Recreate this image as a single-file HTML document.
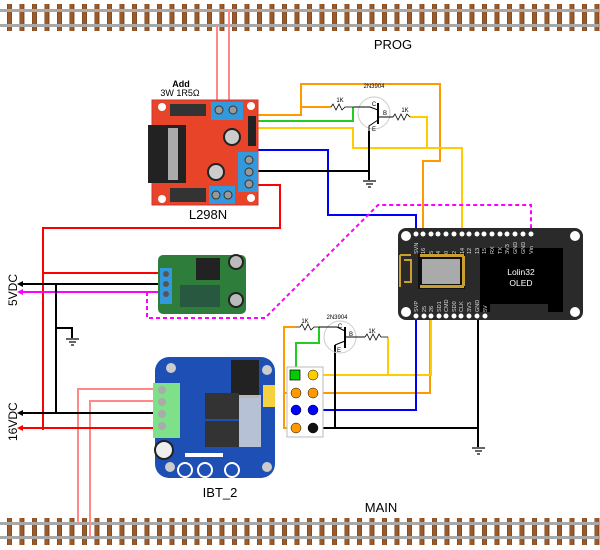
<!DOCTYPE html>
<html><head><meta charset="utf-8"><style>
html,body{margin:0;padding:0;background:#fff;}
svg{display:block;font-family:"Liberation Sans",sans-serif;}
</style></head><body>
<svg width="600" height="550" viewBox="0 0 600 550" xmlns="http://www.w3.org/2000/svg">
<defs>
<pattern id="ties" x="7" y="0" width="12.5" height="550" patternUnits="userSpaceOnUse">
<rect x="0" y="0" width="4.5" height="550" fill="#9a5a2a" stroke="#6b3510" stroke-width="0.8"/>
</pattern>
</defs>
<rect width="600" height="550" fill="#fff"/>
<!-- top track -->
<rect x="0" y="4" width="600" height="27" fill="url(#ties)"/>
<rect x="0" y="9" width="600" height="3" fill="#a8a8a8"/>
<rect x="0" y="24" width="600" height="3" fill="#a8a8a8"/>
<!-- bottom track -->
<rect x="0" y="518" width="600" height="27" fill="url(#ties)"/>
<rect x="0" y="522" width="600" height="3" fill="#a8a8a8"/>
<rect x="0" y="536" width="600" height="3" fill="#a8a8a8"/>

<text x="393" y="49" font-size="13" text-anchor="middle">PROG</text>
<text x="381" y="512" font-size="13" text-anchor="middle">MAIN</text>
<text x="181" y="87" font-size="9" text-anchor="middle" font-weight="bold">Add</text>
<text x="180" y="96" font-size="9" text-anchor="middle">3W 1R5Ω</text>
<text x="208" y="219" font-size="13" text-anchor="middle">L298N</text>
<text x="220" y="497" font-size="13" text-anchor="middle">IBT_2</text>
<text transform="translate(17,306) rotate(-90)" font-size="12">5VDC</text>
<text transform="translate(17,441) rotate(-90)" font-size="12">16VDC</text>

<g fill="none" stroke-width="2">
<!-- pink track wires -->
<polyline points="217,25 217,102" stroke="#f88"/>
<polyline points="229,9 229,102" stroke="#f88"/>
<polyline points="160,389 78,389 78,524" stroke="#f88"/>
<polyline points="160,401 90,401 90,537" stroke="#f88"/>
<!-- L298N outputs -->
<polyline points="254,115 301,115 301,84 440,84 440,161 423,161 423,234" stroke="#f90"/>
<polyline points="301,107 331,107" stroke="#f90"/>
<polyline points="254,121 353,121 353,107" stroke="#2c2"/>
<polyline points="254,128 353,128 353,148 462,148 462,234" stroke="#fc0"/>
<polyline points="410,117 427,117 427,148" stroke="#fc0"/>
<polyline points="200,133 220,133 220,150 328,150 328,215 416,215 416,234" stroke="#00f"/>
<polyline points="258,171 369,171" stroke="#000"/>
<polyline points="369,131 369,180" stroke="#000"/>
<polyline points="258,185 280,185 280,228 43,228 43,430" stroke="#f00"/>
<!-- power rails -->
<polyline points="43,273 160,273" stroke="#f00"/>
<polyline points="22,284 160,284" stroke="#000"/>
<polyline points="22,292 160,292" stroke="#f0f"/>
<polyline points="56,284 56,413" stroke="#000"/>
<polyline points="56,328 72,328 72,338" stroke="#000"/>
<polyline points="22,413 160,413" stroke="#000"/>
<polyline points="22,428 160,428" stroke="#f00"/>
<polyline points="147,292 147,318 265,318 378,205 531,205 531,234" stroke="#f0f" stroke-dasharray="4,3"/>
<!-- lower section -->
<polyline points="296,327 284,327 284,428 296,428" stroke="#f90"/>
<polyline points="284,393 430,393 430,318" stroke="#f90"/>
<polyline points="296,375 296,343 319,343 319,327" stroke="#2c2"/>
<polyline points="313,375 431,375 431,318" stroke="#fc0"/>
<polyline points="388,337 388,375" stroke="#fc0"/>
<polyline points="296,410 416,410 416,318" stroke="#00f"/>
<polyline points="313,428 478,428 478,318" stroke="#000"/>
<polyline points="478,428 478,447" stroke="#000"/>
<polyline points="335,345 335,428" stroke="#000"/>
</g>
<!-- ground symbols -->
<g stroke="#000" stroke-width="1.2">
<line x1="363" y1="181" x2="376" y2="181"/><line x1="366" y1="184" x2="373" y2="184"/><line x1="368" y1="187" x2="371" y2="187"/>
<line x1="66" y1="339" x2="79" y2="339"/><line x1="69" y1="342" x2="76" y2="342"/><line x1="71" y1="345" x2="74" y2="345"/>
<line x1="472" y1="448" x2="485" y2="448"/><line x1="475" y1="451" x2="482" y2="451"/><line x1="477" y1="454" x2="480" y2="454"/>
</g>
<!-- arrows -->
<polygon points="17,284 23,281 23,287" fill="#000"/>
<polygon points="17,292 23,289 23,295" fill="#f0f"/>
<polygon points="17,413 23,410 23,416" fill="#000"/>
<polygon points="17,428 23,425 23,431" fill="#f00"/>

<!-- transistors upper -->
<g font-size="6" text-anchor="middle">
<circle cx="374" cy="113" r="16" fill="none" stroke="#ccc"/>
<line x1="378" y1="103" x2="378" y2="124" stroke="#000" stroke-width="2"/>
<polyline points="354,107 370,107 378,110" fill="none" stroke="#000"/>
<polyline points="378,117 393,117" fill="none" stroke="#000"/>
<polyline points="378,120 369,126 369,131" fill="none" stroke="#000"/>
<text x="374" y="88">2N3904</text><text x="374" y="106">C</text><text x="385" y="115">B</text><text x="374" y="131">E</text>
<polyline points="331,107 333,104 336,110 339,104 342,110 345,107 354,107" fill="none" stroke="#000" stroke-width="0.8"/>
<text x="340" y="102">1K</text>
<polyline points="393,117 395,114 398,120 401,114 404,120 407,114 410,117" fill="none" stroke="#000" stroke-width="0.8"/>
<text x="405" y="112">1K</text>
<!-- lower -->
<circle cx="340" cy="337" r="16" fill="none" stroke="#ccc"/>
<line x1="345" y1="327" x2="345" y2="348" stroke="#000" stroke-width="2"/>
<polyline points="319,327 337,327 345,331" fill="none" stroke="#000"/>
<polyline points="345,337 365,337" fill="none" stroke="#000"/>
<polyline points="345,341 335,345" fill="none" stroke="#000"/>
<text x="337" y="319">2N3904</text><text x="340" y="328">C</text><text x="351" y="336">B</text><text x="339" y="352">E</text>
<polyline points="296,327 300,327 302,324 305,330 308,324 311,330 314,327 319,327" fill="none" stroke="#000" stroke-width="0.8"/>
<text x="305" y="323">1K</text>
<polyline points="365,337 367,334 370,340 373,334 376,340 379,334 381,337 388,337" fill="none" stroke="#000" stroke-width="0.8"/>
<text x="372" y="333">1K</text>
</g>
<!-- connector block -->
<rect x="287" y="367" width="36" height="70" fill="#fff" stroke="#bbb"/>
<rect x="290" y="370" width="10" height="10" fill="#0c0" stroke="#000" stroke-width="0.7"/>
<circle cx="313" cy="375" r="5" fill="#fc0" stroke="#000" stroke-width="0.5"/>
<circle cx="296" cy="393" r="5" fill="#f90" stroke="#000" stroke-width="0.5"/>
<circle cx="313" cy="393" r="5" fill="#f90" stroke="#000" stroke-width="0.5"/>
<circle cx="296" cy="410" r="5" fill="#00f" stroke="#000" stroke-width="0.5"/>
<circle cx="313" cy="410" r="5" fill="#00f" stroke="#000" stroke-width="0.5"/>
<circle cx="296" cy="428" r="5" fill="#f90" stroke="#000" stroke-width="0.5"/>
<circle cx="313" cy="428" r="5" fill="#111" stroke="#000" stroke-width="0.5"/>

<!-- L298N board -->
<rect x="152" y="100" width="106" height="105" fill="#e8442a" stroke="#c33"/>
<rect x="148" y="125" width="38" height="58" fill="#222"/>
<rect x="168" y="128" width="10" height="52" fill="#aaa"/>
<rect x="211" y="102" width="32" height="18" fill="#3399dd"/>
<circle cx="219" cy="110" r="4" fill="#999" stroke="#333"/><circle cx="233" cy="110" r="4" fill="#999" stroke="#333"/>
<rect x="238" y="152" width="20" height="40" fill="#3399dd"/>
<circle cx="249" cy="160" r="4" fill="#999" stroke="#333"/><circle cx="249" cy="172" r="4" fill="#999" stroke="#333"/><circle cx="249" cy="184" r="4" fill="#999" stroke="#333"/>
<rect x="209" y="186" width="26" height="18" fill="#3399dd"/>
<circle cx="216" cy="195" r="4" fill="#999" stroke="#333"/><circle cx="228" cy="195" r="4" fill="#999" stroke="#333"/>
<circle cx="232" cy="137" r="8" fill="#ccc" stroke="#222" stroke-width="2"/>
<circle cx="216" cy="172" r="8" fill="#ccc" stroke="#222" stroke-width="2"/>
<rect x="170" y="104" width="36" height="12" fill="#333"/>
<rect x="170" y="188" width="36" height="14" fill="#333"/>
<rect x="248" y="116" width="8" height="30" fill="#222"/>
<circle cx="162" cy="107" r="4" fill="#fff"/><circle cx="251" cy="106" r="4" fill="#fff"/><circle cx="251" cy="198" r="4" fill="#fff"/><circle cx="162" cy="199" r="4" fill="#fff"/>

<!-- buck board -->
<rect x="158" y="255" width="88" height="59" rx="5" fill="#2e7d3a"/>
<rect x="160" y="268" width="12" height="36" fill="#3399dd"/>
<circle cx="166" cy="274" r="3" fill="#555"/><circle cx="166" cy="284" r="3" fill="#555"/><circle cx="166" cy="294" r="3" fill="#555"/>
<rect x="196" y="258" width="24" height="22" fill="#222"/>
<circle cx="236" cy="262" r="7" fill="#bbb" stroke="#222" stroke-width="2"/>
<circle cx="236" cy="300" r="7" fill="#bbb" stroke="#222" stroke-width="2"/>
<rect x="180" y="285" width="40" height="22" fill="#234" opacity="0.5"/>

<!-- IBT_2 board -->
<rect x="155" y="357" width="120" height="121" rx="14" fill="#1e4fb5"/>
<rect x="153" y="383" width="27" height="55" fill="#7fe08a"/>
<circle cx="162" cy="390" r="4" fill="#aaa"/><circle cx="162" cy="402" r="4" fill="#aaa"/><circle cx="162" cy="414" r="4" fill="#aaa"/><circle cx="162" cy="426" r="4" fill="#aaa"/>
<rect x="231" y="360" width="28" height="38" fill="#222"/>
<rect x="205" y="393" width="34" height="26" fill="#333"/>
<rect x="205" y="421" width="34" height="26" fill="#333"/>
<rect x="239" y="395" width="22" height="52" fill="#ddd" opacity="0.8"/>
<rect x="263" y="385" width="12" height="22" fill="#f5d040"/>
<circle cx="164" cy="450" r="9" fill="#eee" stroke="#222" stroke-width="2"/>
<circle cx="185" cy="470" r="7" fill="none" stroke="#fff" stroke-width="2"/>
<circle cx="205" cy="470" r="7" fill="none" stroke="#fff" stroke-width="2"/>
<circle cx="232" cy="470" r="7" fill="none" stroke="#fff" stroke-width="2"/>
<rect x="185" y="453" width="38" height="4" fill="#fff"/>
<circle cx="171" cy="368" r="5" fill="#ccc"/><circle cx="267" cy="370" r="5" fill="#ccc"/><circle cx="170" cy="467" r="5" fill="#ccc"/><circle cx="267" cy="467" r="5" fill="#ccc"/>

<!-- Lolin32 -->
<rect x="398" y="228" width="185" height="92" rx="8" fill="#2a2a2a"/>
<circle cx="406" cy="236" r="5" fill="#fff"/><circle cx="575" cy="236" r="5" fill="#fff"/>
<circle cx="406" cy="312" r="5" fill="#fff"/><circle cx="575" cy="312" r="5" fill="#fff"/>
<path d="M480,248 H563 V312 H548 V304 H490 V312 H480 Z" fill="#000"/>
<text x="521" y="275" font-size="8.5" fill="#fff" text-anchor="middle">Lolin32</text>
<text x="521" y="286" font-size="8.5" fill="#fff" text-anchor="middle">OLED</text>
<rect x="418" y="253" width="47" height="36" fill="#111"/>
<rect x="422" y="259" width="38" height="25" fill="#aaa"/>
<g fill="#c9a030">
<rect x="420" y="254" width="44" height="3"/><rect x="420" y="285" width="44" height="3"/><rect x="462" y="256" width="3" height="30"/>
</g>
<path d="M400,255 H411 M400,255 V287 M404,260 H411 V282 H404" fill="none" stroke="#c9a030" stroke-width="2"/>
<g fill="#fff">
<circle cx="416" cy="234" r="2.5"/><circle cx="423" cy="234" r="2.5"/><circle cx="431" cy="234" r="2.5"/><circle cx="438" cy="234" r="2.5"/><circle cx="446" cy="234" r="2.5"/><circle cx="454" cy="234" r="2.5"/><circle cx="462" cy="234" r="2.5"/><circle cx="469" cy="234" r="2.5"/><circle cx="477" cy="234" r="2.5"/><circle cx="484" cy="234" r="2.5"/><circle cx="492" cy="234" r="2.5"/><circle cx="500" cy="234" r="2.5"/><circle cx="507" cy="234" r="2.5"/><circle cx="515" cy="234" r="2.5"/><circle cx="523" cy="234" r="2.5"/><circle cx="531" cy="234" r="2.5"/>
<circle cx="416" cy="316" r="2.5"/><circle cx="424" cy="316" r="2.5"/><circle cx="431" cy="316" r="2.5"/><circle cx="439" cy="316" r="2.5"/><circle cx="446" cy="316" r="2.5"/><circle cx="454" cy="316" r="2.5"/><circle cx="461" cy="316" r="2.5"/><circle cx="469" cy="316" r="2.5"/><circle cx="477" cy="316" r="2.5"/><circle cx="485" cy="316" r="2.5"/>
</g>
<g font-size="5.5" fill="#ddd">
<text transform="translate(418,254) rotate(-90)">SVN</text><text transform="translate(425,254) rotate(-90)">16</text><text transform="translate(433,254) rotate(-90)">5</text><text transform="translate(440,254) rotate(-90)">4</text><text transform="translate(448,254) rotate(-90)">0</text><text transform="translate(456,254) rotate(-90)">2</text><text transform="translate(464,254) rotate(-90)">14</text><text transform="translate(471,254) rotate(-90)">12</text><text transform="translate(479,254) rotate(-90)">13</text><text transform="translate(486,254) rotate(-90)">15</text><text transform="translate(494,254) rotate(-90)">RX</text><text transform="translate(502,254) rotate(-90)">TX</text><text transform="translate(509,254) rotate(-90)">3V3</text><text transform="translate(517,254) rotate(-90)">GND</text><text transform="translate(525,254) rotate(-90)">GND</text><text transform="translate(533,254) rotate(-90)">Vin</text>
<text transform="translate(418,312) rotate(-90)">SVP</text><text transform="translate(426,312) rotate(-90)">25</text><text transform="translate(433,312) rotate(-90)">26</text><text transform="translate(441,312) rotate(-90)">SD1</text><text transform="translate(448,312) rotate(-90)">CMD</text><text transform="translate(456,312) rotate(-90)">SD0</text><text transform="translate(463,312) rotate(-90)">CLK</text><text transform="translate(471,312) rotate(-90)">3V3</text><text transform="translate(479,312) rotate(-90)">GND</text><text transform="translate(487,312) rotate(-90)">5V</text>
</g>
</svg>
</body></html>
